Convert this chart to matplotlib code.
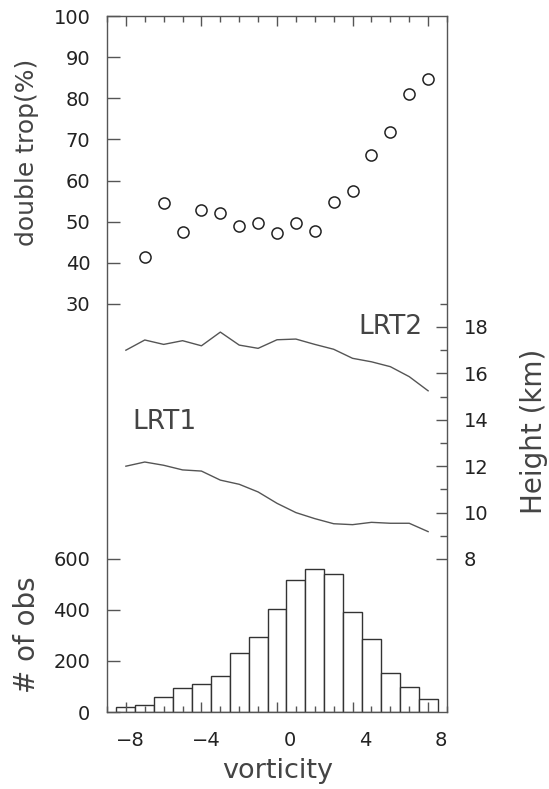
import numpy as np
import matplotlib
matplotlib.use("Agg")
import matplotlib.pyplot as plt
from matplotlib.ticker import FixedLocator
from matplotlib.transforms import ScaledTranslation

# histogram of observations per vorticity bin
hist_centers = [-8, -7, -6, -5, -4, -3, -2, -1, 0, 1, 2, 3, 4, 5, 6, 7, 8]
hist_counts = [21, 27, 58, 93, 109, 142, 233, 293, 405, 518, 560, 540, 393, 286, 154, 99, 50]

# percentage of double tropopauses
dt_x = [-7, -6, -5, -4, -3, -2, -1, 0, 1, 2, 3, 4, 5, 6, 7, 8]
dt_pct = [41.4, 54.6, 47.4, 52.8, 52.0, 49.0, 49.7, 47.2, 49.8, 47.8, 54.8, 57.5, 66.1, 71.7, 81.0, 84.6]

# tropopause heights (km)
lrt_x = [-8, -7, -6, -5, -4, -3, -2, -1, 0, 1, 2, 3, 4, 5, 6, 7, 8]
lrt2 = [17.0, 17.44, 17.25, 17.41, 17.19, 17.78, 17.22, 17.08, 17.45, 17.48, 17.25, 17.04,
        16.65, 16.5, 16.29, 15.86, 15.25]
lrt1 = [12.0, 12.18, 12.04, 11.84, 11.79, 11.4, 11.22, 10.89, 10.4, 10.0, 9.74, 9.52,
        9.48, 9.58, 9.54, 9.54, 9.18]

line_col = "#555555"
text_col = "#444444"
tick_col = "#222222"

fig = plt.figure(figsize=(5.49, 7.89), dpi=100)
rect = [107 / 549, 77 / 789, 340 / 549, 696 / 789]
ax = fig.add_axes(rect)
ax_z = ax.twinx()
ax_t = ax.twinx()

# bottom panel: histogram
ax.bar(hist_centers, hist_counts, width=1.0, facecolor="white", edgecolor="#333333", linewidth=1.0)
ax.set_xlim(-9, 9)
ax.set_ylim(0, 2729)
ax.set_xticks([-8, -4, 0, 4, 8])
ax.set_xticklabels(["\u22128", "\u22124", "0", "4", "8"])
ax.xaxis.set_minor_locator(FixedLocator(np.arange(-9, 10, 1)))
ax.set_yticks([0, 200, 400, 600])
ax.tick_params(axis="x", which="major", direction="in", top=True, bottom=True, length=7,
               width=1, color=line_col, labelsize=14, labelcolor=tick_col, pad=14)
ax.tick_params(axis="x", which="minor", direction="in", top=True, bottom=True, length=4,
               width=1, color=line_col)
ax.tick_params(axis="y", which="major", direction="in", left=True, right=False, length=9,
               width=1, color=line_col, labelsize=14, labelcolor=tick_col, pad=12)
for lab in ax.get_xticklabels():
    lab.set_horizontalalignment("right")
    lab.set_transform(lab.get_transform() + ScaledTranslation(0.19, 0, fig.dpi_scale_trans))
for s in ax.spines.values():
    s.set_color(line_col)
    s.set_linewidth(1.0)

# middle panel: tropopause heights
ax_z.plot(lrt_x, lrt2, color=line_col, linewidth=1.0)
ax_z.plot(lrt_x, lrt1, color=line_col, linewidth=1.0)
ax_z.set_ylim(1.405, 31.405)
ax_z.set_yticks([8, 10, 12, 14, 16, 18])
ax_z.yaxis.set_minor_locator(FixedLocator([9, 11, 13, 15, 17, 19]))
ax_z.tick_params(axis="y", which="major", direction="in", length=8, width=1, color=line_col,
                 labelsize=14, labelcolor=tick_col, pad=12)
ax_z.tick_params(axis="y", which="minor", direction="in", length=5, width=1, color=line_col)
ax_z.text(7.71, 17.98, "LRT2", ha="right", va="center", fontsize=19, color=text_col)
ax_z.text(-7.68, 13.92, "LRT1", ha="left", va="center", fontsize=19, color=text_col)
for s in ax_z.spines.values():
    s.set_visible(False)

# top panel: double tropopause percentage
ax_t.plot(dt_x, dt_pct, linestyle="none", marker="o", markersize=8, markerfacecolor="none",
          markeredgecolor="#222222", markeredgewidth=1.1)
ax_t.set_ylim(-69.17, 100)
ax_t.set_yticks([30, 40, 50, 60, 70, 80, 90, 100])
ax_t.yaxis.tick_left()
ax_t.tick_params(axis="y", which="major", direction="in", left=True, right=False, length=9,
                 width=1, color=line_col, labelsize=14, labelcolor=tick_col, pad=12)
for s in ax_t.spines.values():
    s.set_visible(False)

# axis labels
fig.text(27.5 / 549, 1 - 152 / 789, "double trop(%)", rotation=90, ha="center", va="center",
         fontsize=18, color=text_col)
fig.text(27 / 549, 1 - 634.5 / 789, "# of obs", rotation=90, ha="center", va="center",
         fontsize=20, color=text_col)
fig.text(534 / 549, 1 - 431 / 789, "Height (km)", rotation=90, ha="center", va="center",
         fontsize=20, color=text_col)
fig.text(277.5 / 549, 1 - 771 / 789, "vorticity", ha="center", va="center",
         fontsize=19.5, color=text_col)

fig.savefig("out.png", dpi=100, facecolor="white")
